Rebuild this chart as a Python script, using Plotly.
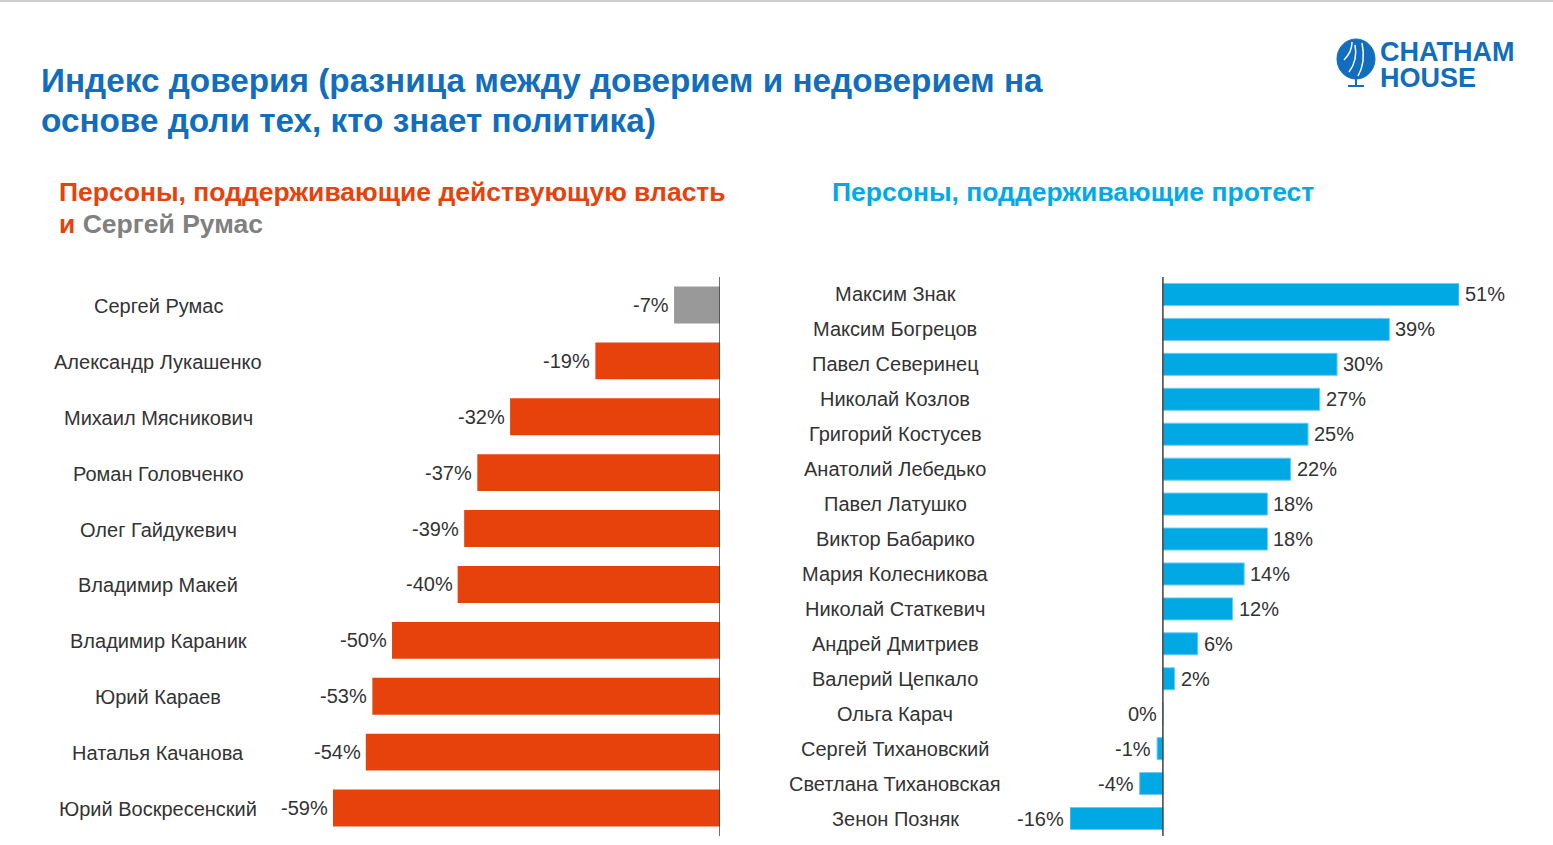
import plotly.graph_objects as go

# ---------------- data ----------------
left_names = ["Сергей Румас", "Александр Лукашенко", "Михаил Мясникович", "Роман Головченко",
              "Олег Гайдукевич", "Владимир Макей", "Владимир Караник", "Юрий Караев",
              "Наталья Качанова", "Юрий Воскресенский"]
left_values = [-7, -19, -32, -37, -39, -40, -50, -53, -54, -59]

right_names = ["Максим Знак", "Максим Богрецов", "Павел Северинец", "Николай Козлов",
               "Григорий Костусев", "Анатолий Лебедько", "Павел Латушко", "Виктор Бабарико",
               "Мария Колесникова", "Николай Статкевич", "Андрей Дмитриев", "Валерий Цепкало",
               "Ольга Карач", "Сергей Тихановский", "Светлана Тихановская", "Зенон Позняк"]
right_values = [51, 39, 30, 27, 25, 22, 18, 18, 14, 12, 6, 2, 0, -1, -4, -16]

title_line1 = "Индекс доверия (разница между доверием и недоверием на"
title_line2 = "основе доли тех, кто знает политика)"
left_sub_1 = "Персоны, поддерживающие действующую власть"
left_sub_2a = "и "
left_sub_2b = "Сергей Румас"
right_sub = "Персоны, поддерживающие протест"
logo_1 = "CHATHAM"
logo_2 = "HOUSE"

# ---------------- styling ----------------
W, H = 1553, 845
RED = "#E8420C"
GRAY = "#999999"
BLUE = "#00A8E4"
DARKBLUE = "#116DBD"
CYAN = "#00A9E8"
TXT = "#333333"
FONT = "Liberation Sans, Arial, sans-serif"
LBL = 20


def fx(p):
    return p / W


def fy(p):
    return 1 - p / H


fig = go.Figure()

fig.add_trace(go.Bar(
    x=left_values, y=left_names, orientation="h",
    marker=dict(color=[GRAY] + [RED] * (len(left_values) - 1), line=dict(width=0)),
    width=0.66, xaxis="x", yaxis="y", hoverinfo="x+y",
))
fig.add_trace(go.Bar(
    x=right_values, y=right_names, orientation="h",
    marker=dict(color=BLUE, line=dict(color="#6CCBF0", width=1)),
    width=0.63, xaxis="x2", yaxis="y2", hoverinfo="x+y",
))

ydom = [fy(836), fy(277)]
fig.update_layout(
    width=W, height=H,
    margin=dict(l=0, r=0, t=0, b=0),
    paper_bgcolor="white", plot_bgcolor="white",
    showlegend=False,
    font=dict(family=FONT, color=TXT, size=LBL),
    xaxis=dict(domain=[fx(333), fx(720)], range=[-59, 0], visible=False, fixedrange=True),
    yaxis=dict(domain=ydom, autorange="reversed", visible=False, anchor="x"),
    xaxis2=dict(domain=[fx(1070), fx(1459)], range=[-16, 51], visible=False, anchor="y2"),
    yaxis2=dict(domain=ydom, autorange="reversed", visible=False, anchor="x2"),
)

ann = []
# category labels
for n in left_names:
    ann.append(dict(xref="paper", yref="y", x=fx(158), y=n, text=n, showarrow=False,
                    xanchor="center", yanchor="middle", yshift=-1, font=dict(size=LBL, color=TXT)))
for n in right_names:
    ann.append(dict(xref="paper", yref="y2", x=fx(895), y=n, text=n, showarrow=False,
                    xanchor="center", yanchor="middle", font=dict(size=LBL, color=TXT)))
# value labels
for n, v in zip(left_names, left_values):
    ann.append(dict(xref="x", yref="y", x=v, y=n, text=f"{v}%", showarrow=False,
                    xanchor="right", yanchor="middle", xshift=-3, font=dict(size=LBL, color=TXT)))
for n, v in zip(right_names, right_values):
    ann.append(dict(xref="x2", yref="y2", x=v, y=n, text=f"{v}%", showarrow=False,
                    xanchor="right" if v <= 0 else "left", yanchor="middle",
                    xshift=-4 if v <= 0 else 4, font=dict(size=LBL, color=TXT)))

# titles
for txt, yc in [(title_line1, 80), (title_line2, 120)]:
    ann.append(dict(xref="paper", yref="paper", x=fx(39), y=fy(yc), text=txt, showarrow=False,
                    xanchor="left", yanchor="middle", align="left",
                    font=dict(size=33.3, color=DARKBLUE, family=FONT, weight="bold")))
ann.append(dict(xref="paper", yref="paper", x=fx(57), y=fy(192), showarrow=False, text=left_sub_1,
                xanchor="left", yanchor="middle", align="left",
                font=dict(size=26.5, color=RED, family=FONT, weight="bold")))
ann.append(dict(xref="paper", yref="paper", x=fx(57), y=fy(224), showarrow=False,
                text=f"{left_sub_2a}<span style='color:#808080'>{left_sub_2b}</span>",
                xanchor="left", yanchor="middle", align="left",
                font=dict(size=26.5, color=RED, family=FONT, weight="bold")))
ann.append(dict(xref="paper", yref="paper", x=fx(830), y=fy(192), text=right_sub, showarrow=False,
                xanchor="left", yanchor="middle", align="left",
                font=dict(size=26.5, color=CYAN, family=FONT, weight="bold")))
# logo text
ann.append(dict(xref="paper", yref="paper", x=fx(1378), y=fy(52), text=logo_1, showarrow=False,
                xanchor="left", yanchor="middle",
                font=dict(size=27, color=DARKBLUE, family=FONT, weight="bold")))
ann.append(dict(xref="paper", yref="paper", x=fx(1378), y=fy(78), text=logo_2, showarrow=False,
                xanchor="left", yanchor="middle",
                font=dict(size=27, color=DARKBLUE, family=FONT, weight="bold")))
fig.update_layout(annotations=ann)

shapes = [
    # top rule
    dict(type="rect", xref="paper", yref="paper", x0=0, x1=1, y0=fy(2), y1=1,
         fillcolor="#CFCFCF", line=dict(width=0), layer="above"),
    # zero axis lines
    dict(type="line", xref="x", yref="y domain", x0=0, x1=0, y0=0, y1=1,
         line=dict(color="#404040", width=1.5), layer="above"),
    dict(type="line", xref="x2", yref="y2 domain", x0=0, x1=0, y0=0, y1=1,
         line=dict(color="#404040", width=1.5), layer="above"),
    # logo globe
    dict(type="circle", xref="paper", yref="paper", x0=fx(1337), x1=fx(1375), y0=fy(79), y1=fy(39),
         fillcolor=DARKBLUE, line=dict(color=DARKBLUE, width=1)),
    dict(type="path", xref="paper", yref="paper",
         path=f"M {fx(1344)} {fy(60)} Q {fx(1352)} {fy(52)} {fx(1352)} {fy(42)}",
         line=dict(color="white", width=1.5)),
    dict(type="path", xref="paper", yref="paper",
         path=f"M {fx(1358)} {fy(76)} Q {fx(1366)} {fy(62)} {fx(1362)} {fy(43)}",
         line=dict(color="white", width=1.5)),
    dict(type="path", xref="paper", yref="paper",
         path=f"M {fx(1349)} {fy(72)} Q {fx(1358)} {fy(60)} {fx(1355)} {fy(45)}",
         line=dict(color="white", width=1.5)),
    dict(type="line", xref="paper", yref="paper", x0=fx(1356), x1=fx(1356), y0=fy(79), y1=fy(85),
         line=dict(color=DARKBLUE, width=2)),
    dict(type="line", xref="paper", yref="paper", x0=fx(1348), x1=fx(1364), y0=fy(86), y1=fy(86),
         line=dict(color=DARKBLUE, width=2)),
]
fig.update_layout(shapes=shapes)

fig.write_html("out.html", config={"displayModeBar": False},
               post_script="document.body.style.margin='0';")
